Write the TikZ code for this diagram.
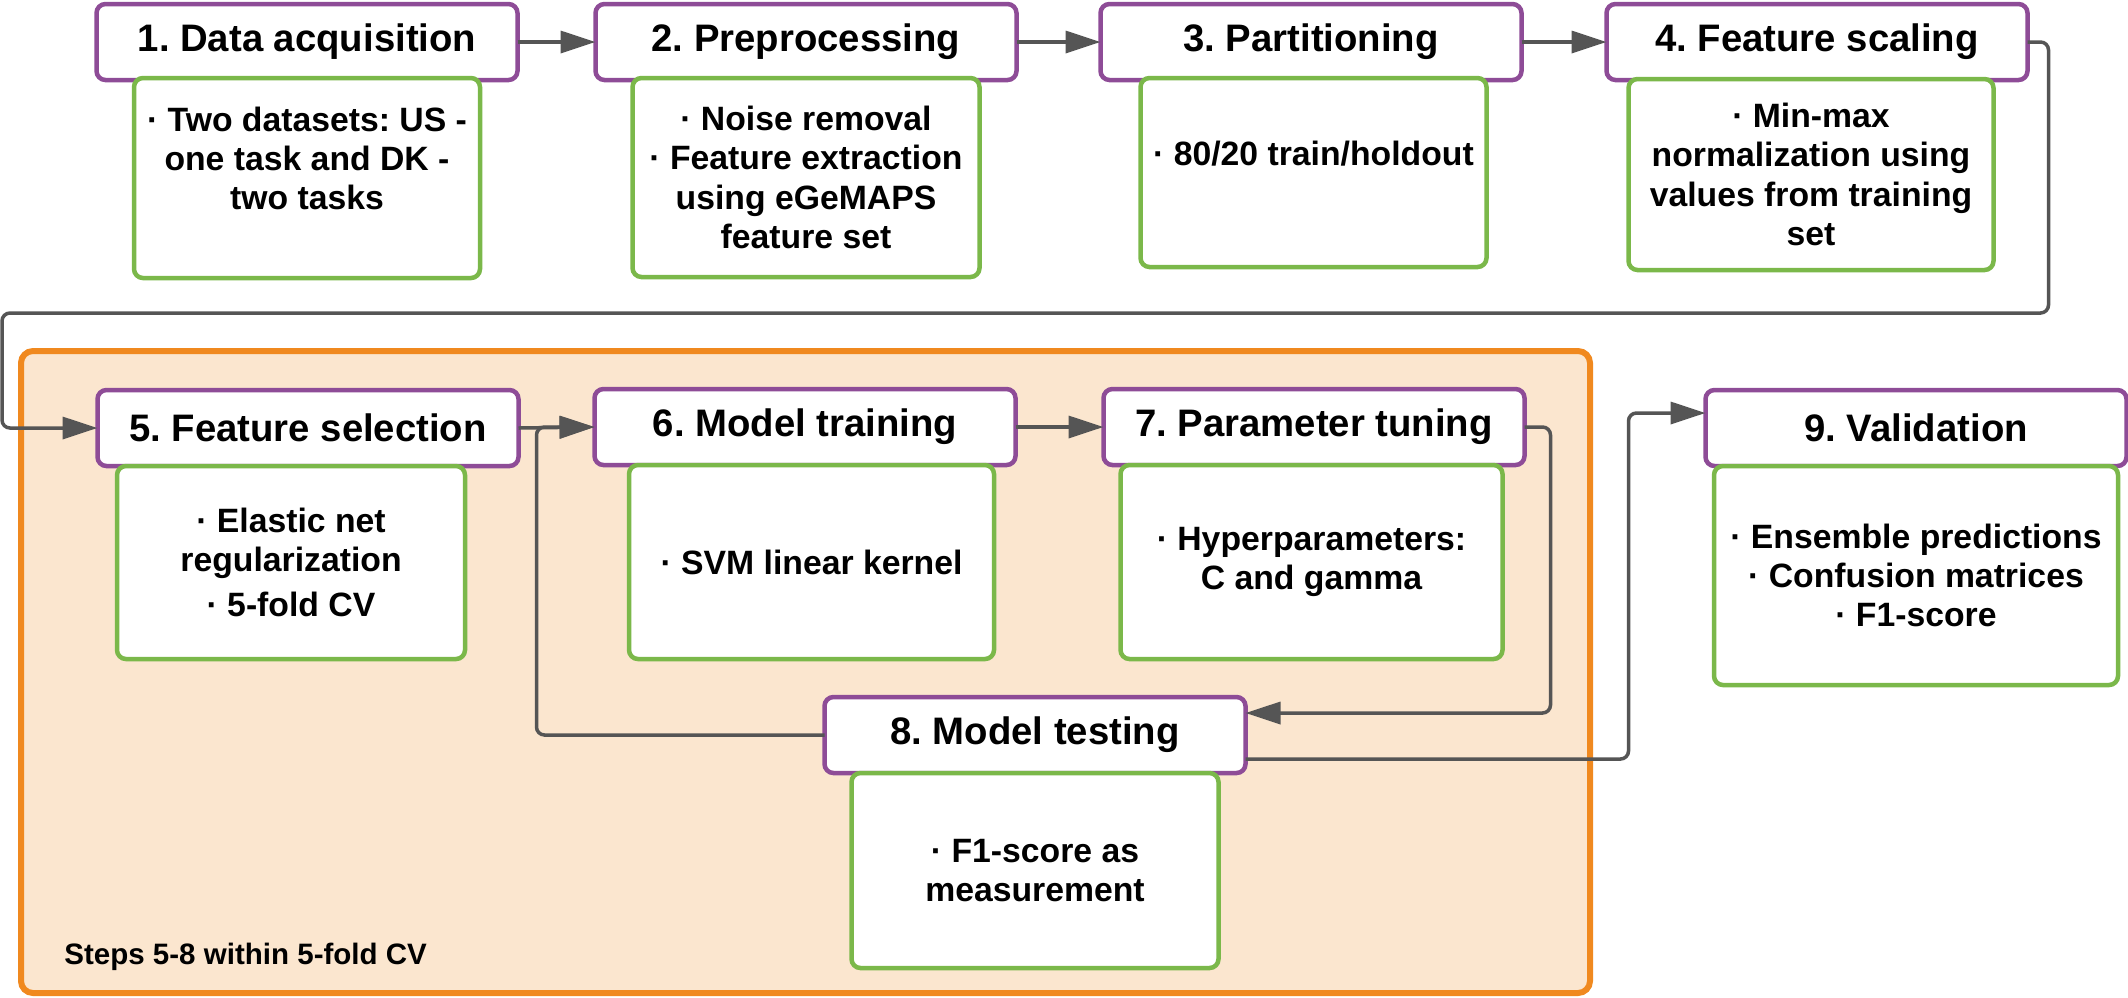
\documentclass[tikz,border=0pt]{standalone}
\usepackage{fontspec}
\setmainfont{Liberation Sans}
\usepackage{xcolor}
\usepackage{tikz}
\usetikzlibrary{positioning,arrows.meta}

\definecolor{stagepurple}{HTML}{8E4C97}
\definecolor{detailgreen}{HTML}{7BB84A}
\definecolor{cvorange}{HTML}{F0891F}
\definecolor{cvfill}{HTML}{FBE6CF}
\definecolor{flowgray}{HTML}{555555}

\newcommand\headfont{\fontsize{10.9}{13}\selectfont\bfseries}
\newcommand\bodyfont{\fontsize{9.6}{11.2}\selectfont\bfseries}
\newcommand\notefont{\fontsize{8.4}{10}\selectfont\bfseries}
\frenchspacing

\begin{document}
\begin{tikzpicture}[x=0.1mm, y=-0.1mm,
      stage/.style={draw=stagepurple, line width=0.45mm, rounded corners=0.9mm, fill=white, outer sep=0pt,
        minimum width=42.1mm, minimum height=7.6mm, font=\headfont},
      detail/.style={draw=detailgreen, line width=0.45mm, rounded corners=0.9mm, fill=white, outer sep=0pt,
        align=center, font=\bodyfont},
      flow/.style={draw=flowgray, line width=0.35mm, rounded corners=0.8mm, -{Triangle[length=3.5mm,width=2.2mm]}}
      ]
      \useasboundingbox (0,0) rectangle (2128,997);

      % cross-validation frame
      \draw[cvorange, fill=cvfill, line width=0.6mm, rounded corners=1.2mm] (21,351) rectangle (1590,993);
      \node[anchor=west, font=\notefont] (note) at (52,957) {Steps 5-8 within 5-fold CV};

      % stages
      \node[stage] (b1) at (307,42) {1. Data acquisition};
      \node[stage] (b2) at (806,42) {2. Preprocessing};
      \node[stage] (b3) at (1311,42) {3. Partitioning};
      \node[stage] (b4) at (1817,42) {4. Feature scaling};
      \node[stage] (b5) at (308,428) {5. Feature selection};
      \node[stage] (b6) at (805,427) {6. Model training};
      \node[stage] (b7) at (1314,427) {7. Parameter tuning};
      \node[stage] (b8) at (1035,735) {8. Model testing};
      \node[stage] (b9) at (1916,428) {9. Validation};

      % details
      \node[detail, below=-0.2mm of b1, minimum width=34.6mm, minimum height=20mm] (d1)
        {· Two datasets: US -\\one task and DK -\\two tasks\\~};
      \node[detail, below=-0.2mm of b2, minimum width=34.7mm, minimum height=19.9mm] (d2)
        {· Noise removal\\· Feature extraction\\using eGeMAPS\\feature set};
      \node[detail, below=-0.2mm of b3, xshift=0.25mm, minimum width=34.6mm, minimum height=18.9mm] (d3)
        {· 80/20 train/holdout\\~};
      \node[detail, below=-0.1mm of b4, xshift=-0.6mm, minimum width=36.5mm, minimum height=19.1mm] (d4)
        {· Min-max\\normalization using\\values from training\\set};
      \node[detail, below=0mm of b5, xshift=-1.7mm, minimum width=34.8mm, minimum height=19.3mm] (d5)
        {· Elastic net\\regularization\\[0.6mm]· 5-fold CV};
      \node[detail, below=0mm of b6, xshift=0.65mm, minimum width=36.5mm, minimum height=19.4mm] (d6)
        {· SVM linear kernel};
      \node[detail, below=0mm of b7, xshift=-0.25mm, minimum width=38.2mm, minimum height=19.4mm] (d7)
        {· Hyperparameters:\\C and gamma};
      \node[detail, below=0mm of b8, minimum width=36.7mm, minimum height=19.5mm] (d8)
        {· F1-score as\\measurement};
      \node[detail, below=0mm of b9, minimum width=40.4mm, minimum height=21.9mm] (d9)
        {· Ensemble predictions\\· Confusion matrices\\· F1-score};

      % flow
      \draw[flow] (b1.east) -- (b2.west);
      \draw[flow] (b2.east) -- (b3.west);
      \draw[flow] (b3.east) -- (b4.west);
      \draw[flow] (b4.east) -- ++(21,0) |- (2,313) |- (b5.west);
      \draw[flow] (b5.east) -- (b6.west);
      \draw[flow] (b6.east) -- (b7.west);
      \draw[flow] (b7.east) -- ++(26,0) |- ([yshift=2.2mm]b8.east);
      \draw[flow] (b8.west) -| ([xshift=-5.8mm]b6.west) -- (b6.west);
      \draw[flow] ([yshift=-2.4mm]b8.east) -| ([xshift=-7.7mm, yshift=1.5mm]b9.west) -- ([yshift=1.5mm]b9.west);
    \end{tikzpicture}
\end{document}
